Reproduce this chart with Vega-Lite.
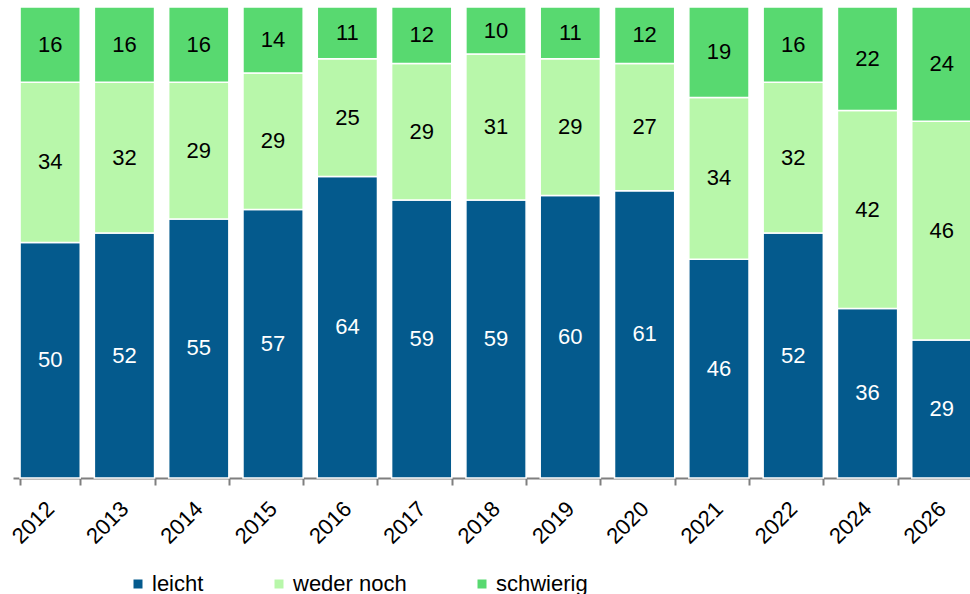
{
  "$schema": "https://vega.github.io/schema/vega-lite/v6.json",
  "autosize": "none",
  "width": 966,
  "height": 471,
  "padding": {"left": 13, "top": 7, "right": 0, "bottom": 116},
  "background": "white",
  "config": {"view": {"stroke": null}, "font": "Liberation Sans"},
  "data": {"values": [
    {"year": "2012", "cat": "leicht", "value": 50}, {"year": "2012", "cat": "weder noch", "value": 34}, {"year": "2012", "cat": "schwierig", "value": 16},
    {"year": "2013", "cat": "leicht", "value": 52}, {"year": "2013", "cat": "weder noch", "value": 32}, {"year": "2013", "cat": "schwierig", "value": 16},
    {"year": "2014", "cat": "leicht", "value": 55}, {"year": "2014", "cat": "weder noch", "value": 29}, {"year": "2014", "cat": "schwierig", "value": 16},
    {"year": "2015", "cat": "leicht", "value": 57}, {"year": "2015", "cat": "weder noch", "value": 29}, {"year": "2015", "cat": "schwierig", "value": 14},
    {"year": "2016", "cat": "leicht", "value": 64}, {"year": "2016", "cat": "weder noch", "value": 25}, {"year": "2016", "cat": "schwierig", "value": 11},
    {"year": "2017", "cat": "leicht", "value": 59}, {"year": "2017", "cat": "weder noch", "value": 29}, {"year": "2017", "cat": "schwierig", "value": 12},
    {"year": "2018", "cat": "leicht", "value": 59}, {"year": "2018", "cat": "weder noch", "value": 31}, {"year": "2018", "cat": "schwierig", "value": 10},
    {"year": "2019", "cat": "leicht", "value": 60}, {"year": "2019", "cat": "weder noch", "value": 29}, {"year": "2019", "cat": "schwierig", "value": 11},
    {"year": "2020", "cat": "leicht", "value": 61}, {"year": "2020", "cat": "weder noch", "value": 27}, {"year": "2020", "cat": "schwierig", "value": 12},
    {"year": "2021", "cat": "leicht", "value": 46}, {"year": "2021", "cat": "weder noch", "value": 34}, {"year": "2021", "cat": "schwierig", "value": 19},
    {"year": "2022", "cat": "leicht", "value": 52}, {"year": "2022", "cat": "weder noch", "value": 32}, {"year": "2022", "cat": "schwierig", "value": 16},
    {"year": "2024", "cat": "leicht", "value": 36}, {"year": "2024", "cat": "weder noch", "value": 42}, {"year": "2024", "cat": "schwierig", "value": 22},
    {"year": "2026", "cat": "leicht", "value": 29}, {"year": "2026", "cat": "weder noch", "value": 46}, {"year": "2026", "cat": "schwierig", "value": 24}
  ]},
  "transform": [
    {"calculate": "indexof(['leicht','weder noch','schwierig'], datum.cat)", "as": "rank"},
    {"stack": "value", "groupby": ["year"], "sort": [{"field": "rank", "order": "ascending"}], "offset": "normalize", "as": ["y0", "y1"]},
    {"calculate": "(datum.y0 + datum.y1) / 2", "as": "ymid"}
  ],
  "encoding": {
    "x": {
      "field": "year", "type": "nominal", "title": null,
      "scale": {"paddingInner": 0.19, "paddingOuter": 0.095},
      "axis": {
        "labelAngle": -45, "labelAlign": "right", "labelBaseline": "middle",
        "labelFontSize": 22, "labelColor": "#000000", "labelPadding": 20,
        "tickBand": "extent", "tickSize": 7, "tickColor": "#7f7f7f", "tickWidth": 2,
        "domainColor": "#7f7f7f", "domainWidth": 2, "labelFont": "Liberation Sans"
      }
    }
  },
  "layer": [
    {
      "mark": {"type": "bar", "stroke": "white", "strokeWidth": 1.5},
      "encoding": {
        "y": {"field": "y0", "type": "quantitative", "axis": null, "scale": {"domain": [0, 1], "nice": false}},
        "y2": {"field": "y1"},
        "color": {
          "field": "cat", "type": "nominal",
          "scale": {"domain": ["leicht", "weder noch", "schwierig"], "range": ["#045A8D", "#B8F7AA", "#58D970"]},
          "legend": {
            "title": null, "orient": "none", "direction": "horizontal",
            "legendX": 114, "legendY": 566,
            "symbolType": "square", "symbolSize": 81, "symbolStrokeWidth": 0,
            "labelFontSize": 22, "labelColor": "#000000", "labelFont": "Liberation Sans",
            "columnPadding": 64, "labelOffset": 3
          }
        }
      }
    },
    {
      "mark": {"type": "text", "fontSize": 22, "baseline": "middle", "align": "center", "font": "Liberation Sans"},
      "encoding": {
        "y": {"field": "ymid", "type": "quantitative"},
        "text": {"field": "value", "type": "quantitative"},
        "color": {"condition": {"test": "datum.cat === 'leicht'", "value": "white"}, "value": "black"}
      }
    }
  ]
}
